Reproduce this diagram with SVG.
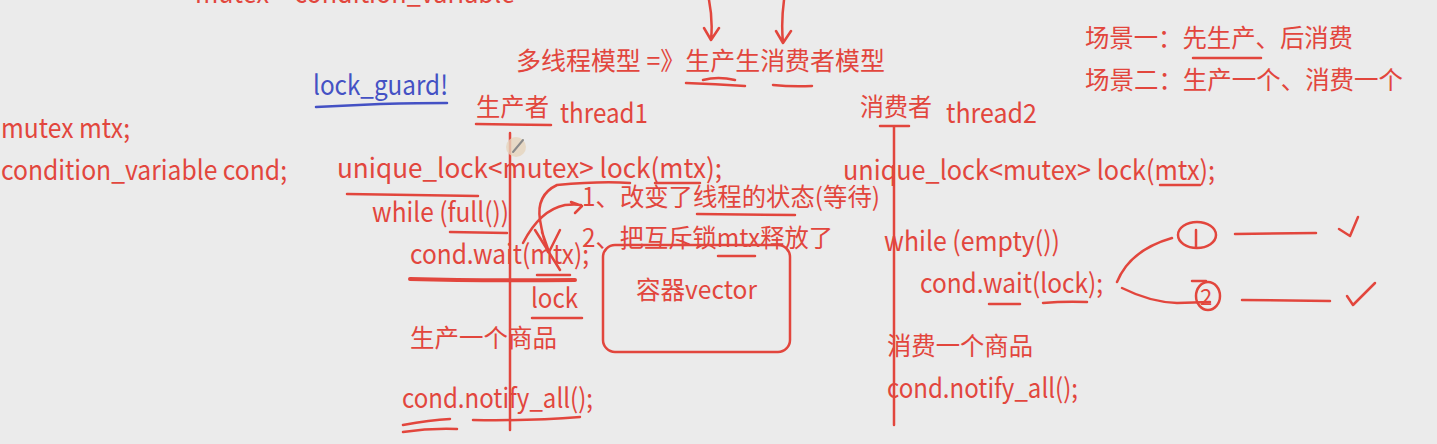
<svg xmlns="http://www.w3.org/2000/svg" width="1437" height="444" viewBox="0 0 1437 444">
<defs>
<style>
.t{font-family:"Noto Sans CJK SC","Microsoft YaHei",sans-serif;font-size:25px;fill:#e2463d}
.l{font-size:27px}
.b{fill:#4451c4}
.s{fill:none;stroke:#e2463d;stroke-width:2.5;stroke-linecap:round;stroke-linejoin:round}
.sb{fill:none;stroke:#4451c4;stroke-width:2.5;stroke-linecap:round}
.thick{stroke-width:4}
</style>
</defs>
<rect width="1437" height="444" fill="#ebebeb"/>

<g id="top-note"><text class="t l" x="195" y="3" textLength="320" lengthAdjust="spacingAndGlyphs">mutex + condition_variable</text></g>

<g id="title">
<text class="t" x="516" y="70" textLength="369" lengthAdjust="spacingAndGlyphs">多线程模型 =》生产生消费者模型</text>
<path class="s" d="M686 83 Q715 84 745 86 M703 80 Q718 76 735 80 M773 85 Q792 87 812 86"/>
</g>

<g id="scenes">
<text class="t" x="1085" y="47" textLength="268" lengthAdjust="spacingAndGlyphs">场景一：先生产、后消费</text>
<path class="s" d="M1193 58 L1261 58"/>
<text class="t" x="1085" y="89" textLength="318" lengthAdjust="spacingAndGlyphs">场景二：生产一个、消费一个</text>
</g>

<g id="lock-guard">
<text class="t l b" x="313" y="95" textLength="135" lengthAdjust="spacingAndGlyphs">lock_guard!</text>
<path class="sb" d="M316 107 Q360 105 380 104 Q420 103 447 103"/>
</g>

<g id="globals">
<text class="t l" x="1" y="138" textLength="129" lengthAdjust="spacingAndGlyphs">mutex mtx;</text>
<text class="t l" x="1" y="180" textLength="286" lengthAdjust="spacingAndGlyphs">condition_variable cond;</text>
</g>

<g id="producer">
<text class="t" x="476" y="116" textLength="73" lengthAdjust="spacingAndGlyphs">生产者</text>
<text class="t l" x="560" y="123" textLength="88" lengthAdjust="spacingAndGlyphs">thread1</text>
<path class="s" d="M476 124 L551 125"/>
<path class="s" d="M510 133 L510 430"/>
<circle cx="516" cy="147" r="10" fill="#e6d5bd" opacity="0.8"/>
<path d="M513 152 L523 140" stroke="#8a8a8a" stroke-width="2" stroke-linecap="round"/>
<text class="t l" x="337" y="178" textLength="385" lengthAdjust="spacingAndGlyphs">unique_lock&lt;mutex&gt; lock(mtx);</text>
<path class="s" d="M347 194 Q420 195 478 196"/>
<path class="s" d="M655 183 L700 183"/>
<text class="t l" x="372" y="222" textLength="137" lengthAdjust="spacingAndGlyphs">while (full())</text>
<path class="s" d="M450 232 L507 233"/>
<text class="t l" x="410" y="264" textLength="179" lengthAdjust="spacingAndGlyphs">cond.wait(mtx);</text>
<path class="s thick" d="M410 279 Q480 281 575 280"/>
<path class="s" d="M537 275 L570 275"/>
<text class="t l" x="531" y="308" textLength="47" lengthAdjust="spacingAndGlyphs">lock</text>
<path class="s" d="M532 318 L582 318"/>
<text class="t" x="410" y="347" textLength="147" lengthAdjust="spacingAndGlyphs">生产一个商品</text>
<text class="t l" x="402" y="408" textLength="191" lengthAdjust="spacingAndGlyphs">cond.notify_all();</text>
<path class="s" d="M403 425 Q430 420 450 419 M403 432 Q430 428 457 429 M473 420 Q530 421 580 417"/>
</g>

<g id="wait-notes">
<text class="t" x="582" y="206" textLength="298" lengthAdjust="spacingAndGlyphs">1、改变了线程的状态(等待)</text>
<path class="s" d="M697 214 L795 215"/>
<text class="t" x="582" y="247" textLength="251" lengthAdjust="spacingAndGlyphs">2、把互斥锁mtx释放了</text>
<path class="s" d="M718 256 L755 256"/>
</g>

<g id="container">
<rect class="s" x="603" y="245" width="187" height="107" rx="12" stroke-width="3"/>
<text class="t" x="636" y="299" textLength="121" lengthAdjust="spacingAndGlyphs">容器vector</text>
</g>

<g id="consumer">
<text class="t" x="860" y="116" textLength="72" lengthAdjust="spacingAndGlyphs">消费者</text>
<text class="t l" x="946" y="123" textLength="91" lengthAdjust="spacingAndGlyphs">thread2</text>
<path class="s" d="M880 126 L909 126 M894 126 L894 425"/>
<text class="t l" x="843" y="180" textLength="372" lengthAdjust="spacingAndGlyphs">unique_lock&lt;mutex&gt; lock(mtx);</text>
<path class="s" d="M1160 185 L1200 185"/>
<text class="t l" x="884" y="251" textLength="176" lengthAdjust="spacingAndGlyphs">while (empty())</text>
<text class="t l" x="920" y="293" textLength="183" lengthAdjust="spacingAndGlyphs">cond.wait(lock);</text>
<path class="s" d="M989 304 L1020 304 M1043 303 Q1065 301 1087 302"/>
<text class="t" x="887" y="355" textLength="146" lengthAdjust="spacingAndGlyphs">消费一个商品</text>
<text class="t l" x="887" y="398" textLength="191" lengthAdjust="spacingAndGlyphs">cond.notify_all();</text>
</g>

<g id="case-1">
<ellipse class="s" cx="1197" cy="235" rx="19" ry="13"/>
<path class="s" d="M1196 230 L1196 247"/>
<path class="s" d="M1235 234 L1316 233"/>
<path class="s" d="M1339 229 L1350 236 L1358 217"/>
</g>

<g id="case-2">
<ellipse class="s" cx="1208" cy="296" rx="12" ry="14"/>
<path class="s" d="M1192 281 L1206 281"/>
<text class="t" x="1200" y="305" style="font-size:22px">2</text>
<path class="s" d="M1242 300 L1330 301"/>
<path class="s" d="M1347 296 L1353 305 L1375 283"/>
</g>

<g id="connectors">
<path class="s" d="M709 0 Q713 20 711 40 M704 28 L711 40 L719 28"/>
<path class="s" d="M784 0 Q781 22 783 43 M776 31 L783 43 L791 31"/>
<path class="s" d="M630 183 Q600 181 557 185 Q536 195 540 220 Q543 238 548 252 M542 232 L549 252 L560 230"/>
<path class="s" d="M523 243 Q540 210 565 205 Q575 204 581 205 M571 202 L582 206 L575 213"/>
<path class="s" d="M535 230 L560 270"/>
<path class="s" d="M1117 282 Q1130 250 1172 238"/>
<path class="s" d="M1122 288 Q1150 302 1177 303 L1210 302"/>
</g>
</svg>
